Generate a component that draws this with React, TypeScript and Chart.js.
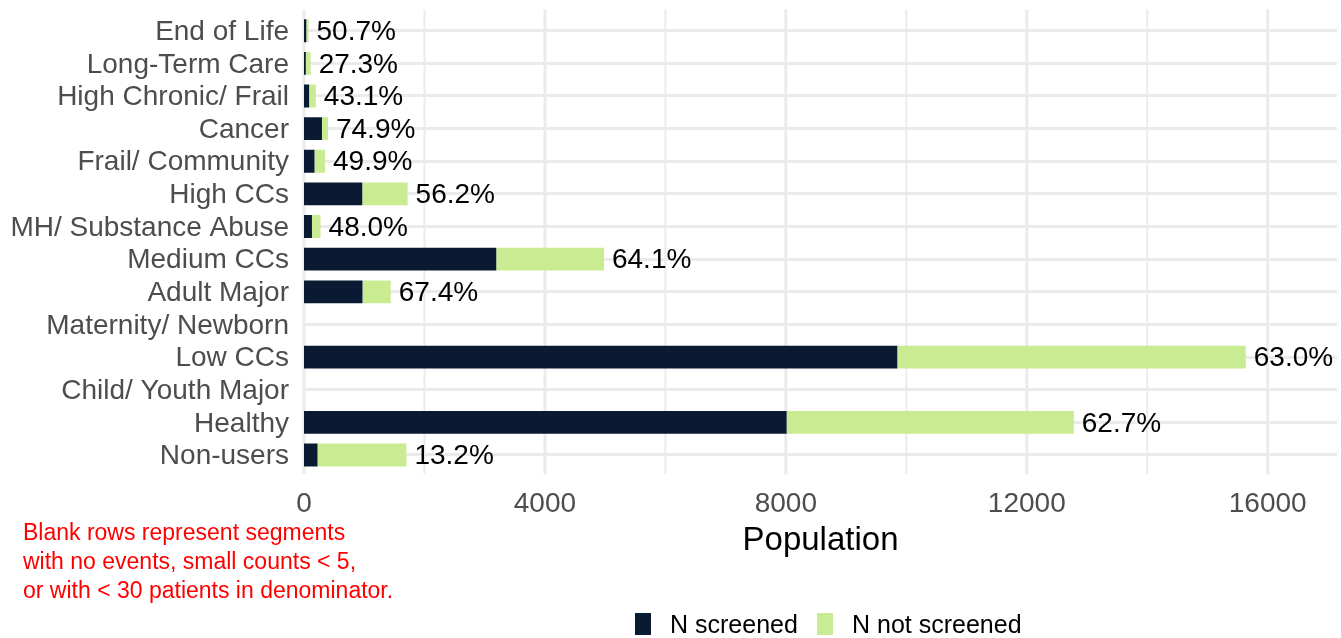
import React, { useEffect, useRef } from "react";
import { Chart, registerables } from "chart.js";

Chart.register(...registerables);

const categories = [
  "End of Life",
  "Long-Term Care",
  "High Chronic/ Frail",
  "Cancer",
  "Frail/ Community",
  "High CCs",
  "MH/ Substance Abuse",
  "Medium CCs",
  "Adult Major",
  "Maternity/ Newborn",
  "Low CCs",
  "Child/ Youth Major",
  "Healthy",
  "Non-users",
];
const nScreened: (number | null)[] = [38, 30, 85, 298, 174, 967, 132, 3192, 971, null, 9850, null, 8013, 224];
const nNotScreened: (number | null)[] = [37, 80, 112, 100, 175, 753, 143, 1788, 469, null, 5785, null, 4767, 1476];
const pctLabels: (string | null)[] = ["50.7%", "27.3%", "43.1%", "74.9%", "49.9%", "56.2%", "48.0%", "64.1%", "67.4%", null, "63.0%", null, "62.7%", "13.2%"];
const xTickValues = [0, 2000, 4000, 6000, 8000, 10000, 12000, 14000, 16000];
const xLabelEvery = 4000;
const seriesNames = ["N screened", "N not screened"];
const noteLines = [
  "Blank rows represent segments",
  "with no events, small counts < 5,",
  "or with < 30 patients in denominator.",
];

const DARK = "#0B1A33";
const GREEN = "#C9EB91";
const GRID = "#EBEBEB";
const FONT = "'Liberation Sans', Arial, sans-serif";

export default function App() {
  const ref = useRef<HTMLCanvasElement | null>(null);
  useEffect(() => {
    if (!ref.current) return;
    const extras = {
      id: "extras",
      beforeDatasetsDraw(chart: any) {
        const ctx = chart.ctx;
        const xs = chart.scales.x;
        const area = chart.chartArea;
        ctx.save();
        ctx.strokeStyle = GRID;
        xTickValues.forEach((v) => {
          const px = xs.getPixelForValue(v);
          ctx.lineWidth = v % xLabelEvery === 0 ? 3 : 2;
          ctx.beginPath();
          ctx.moveTo(px, area.top - 5);
          ctx.lineTo(px, area.bottom + 3);
          ctx.stroke();
        });
        ctx.restore();
      },
      afterDatasetsDraw(chart: any) {
        const ctx = chart.ctx;
        const xs = chart.scales.x;
        const ys = chart.scales.y;
        ctx.save();
        ctx.font = `28px ${FONT}`;
        ctx.fillStyle = "#000000";
        ctx.textAlign = "left";
        ctx.textBaseline = "middle";
        categories.forEach((_, i) => {
          const a = nScreened[i];
          const b = nNotScreened[i];
          const lab = pctLabels[i];
          if (a == null || b == null || !lab) return;
          const px = xs.getPixelForValue(a + b);
          const py = ys.getPixelForValue(i);
          ctx.fillText(lab, px + 8, py + 1.5);
        });
        ctx.restore();
      },
      afterDraw(chart: any) {
        const ctx = chart.ctx;
        ctx.save();
        ctx.font = `23px ${FONT}`;
        ctx.fillStyle = "#FF0000";
        ctx.textAlign = "left";
        ctx.textBaseline = "middle";
        noteLines.forEach((t, i) => ctx.fillText(t, 23, 534 + i * 29));
        ctx.font = `25px ${FONT}`;
        ctx.fillStyle = DARK;
        ctx.fillRect(635, 613, 16, 22);
        ctx.fillStyle = GREEN;
        ctx.fillRect(817, 613, 16, 22);
        ctx.fillStyle = "#000000";
        ctx.fillText(seriesNames[0], 670, 626);
        ctx.fillText(seriesNames[1], 852, 626);
        ctx.restore();
      },
    };
    const chart = new Chart(ref.current, {
      type: "bar",
      data: {
        labels: categories,
        datasets: [
          { label: seriesNames[0], data: nScreened, backgroundColor: DARK, categoryPercentage: 1, barPercentage: 0.7 },
          { label: seriesNames[1], data: nNotScreened, backgroundColor: GREEN, categoryPercentage: 1, barPercentage: 0.7 },
        ],
      },
      options: {
        indexAxis: "y",
        animation: false,
        responsive: true,
        maintainAspectRatio: false,
        layout: { padding: { top: 14.4, right: 4, bottom: 0, left: 0 } },
        plugins: { legend: { display: false }, tooltip: { enabled: false } },
        scales: {
          x: {
            type: "linear",
            stacked: true,
            min: 0,
            max: 17150,
            afterBuildTicks: (scale: any) => {
              scale.ticks = xTickValues.map((v) => ({ value: v }));
            },
            afterFit: (scale: any) => {
              scale.height = 166.7;
              scale.paddingLeft = 0;
              scale.paddingRight = 0;
            },
            grid: { display: false, drawTicks: false },
            border: { display: false },
            ticks: {
              padding: 16,
              color: "#4D4D4D",
              font: { family: FONT, size: 28 },
              maxRotation: 0,
              autoSkip: false,
              callback: (v: any) => (Number(v) % xLabelEvery === 0 ? String(v) : ""),
            },
            title: {
              display: true,
              text: "Population",
              color: "#000000",
              font: { family: FONT, size: 33 },
              padding: { top: 0, bottom: 77 },
            },
          },
          y: {
            stacked: true,
            afterFit: (scale: any) => {
              scale.width = 304;
              scale.paddingTop = 0;
              scale.paddingBottom = 0;
            },
            grid: { color: GRID, lineWidth: 3, offset: false, drawTicks: false },
            border: { display: false },
            ticks: {
              padding: 15,
              labelOffset: 1.5,
              color: "#4D4D4D",
              font: { family: FONT, size: 28 },
              autoSkip: false,
            },
          },
        },
      },
      plugins: [extras],
    } as any);
    return () => chart.destroy();
  }, []);
  return (
    <div style={{ position: "fixed", left: 0, top: 0, width: 1341, height: 638, background: "#fff" }}>
      <canvas ref={ref} />
    </div>
  );
}
